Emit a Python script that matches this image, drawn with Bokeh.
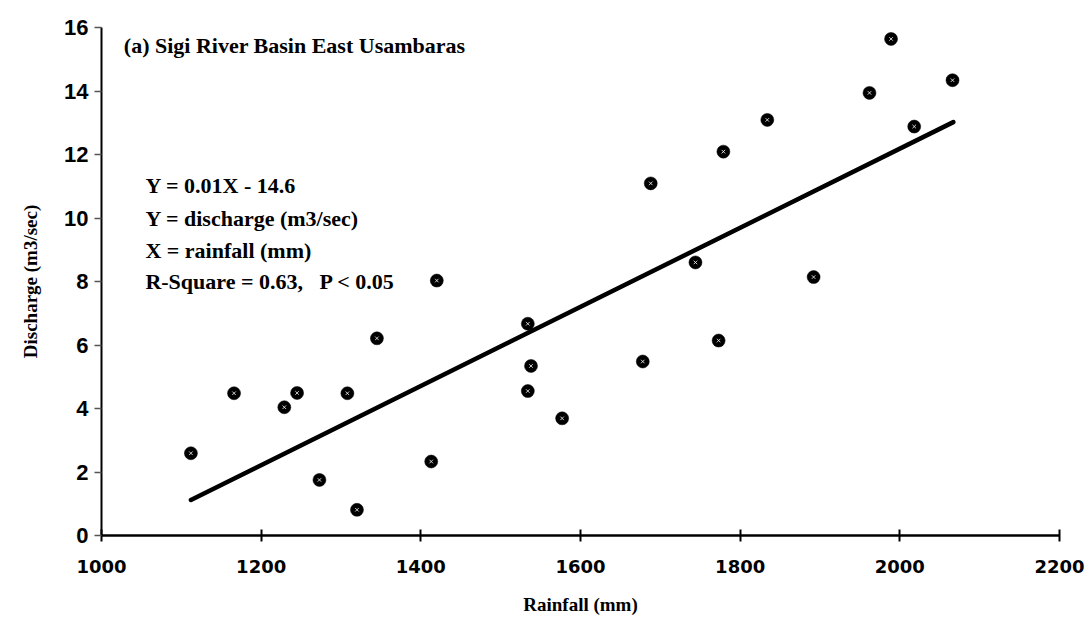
from bokeh.plotting import figure
from bokeh.models import Label, FixedTicker, Range1d
from bokeh.embed import file_html
from bokeh.resources import INLINE

# Data
rainfall = [1112, 1166, 1229, 1245, 1308, 1273, 1320, 1345, 1413, 1420,
            1534, 1538, 1534, 1577, 1678, 1688, 1744, 1773, 1779, 1834,
            1892, 1962, 1989, 2018, 2066]
discharge = [2.59, 4.48, 4.04, 4.49, 4.48, 1.75, 0.81, 6.21, 2.33, 8.03,
             6.67, 5.34, 4.55, 3.69, 5.48, 11.09, 8.60, 6.14, 12.09, 13.09,
             8.14, 13.94, 15.64, 12.88, 14.34]
fit_x = [1112, 2067]
fit_y = [1.12, 13.02]
x_ticks = [1000, 1200, 1400, 1600, 1800, 2000, 2200]
y_ticks = [0, 2, 4, 6, 8, 10, 12, 14, 16]

title_text = "(a) Sigi River Basin East Usambaras"
notes = ["Y = 0.01X - 14.6", "Y = discharge (m3/sec)", "X = rainfall (mm)",
         "R-Square = 0.63,\u00a0\u00a0\u00a0P < 0.05"]

p = figure(width=1088, height=623, output_backend="svg", toolbar_location=None,
           x_range=Range1d(1000, 2200), y_range=Range1d(0, 16),
           min_border_left=101, min_border_right=29, min_border_top=27,
           min_border_bottom=88)
p.outline_line_color = None
p.grid.visible = False
p.background_fill_color = "white"
p.border_fill_color = "white"

# regression line
p.line(fit_x, fit_y, line_color="black", line_width=4.5, line_cap="round")
# points
p.scatter(rainfall, discharge, size=13, marker="circle", fill_color="black",
          line_color="black", line_width=0.5)
p.scatter(rainfall, discharge, size=5, marker="x", line_color="white",
          line_width=1.0, line_alpha=0.8)

serif = "Liberation Serif"

xa = p.xaxis[0]
xa.ticker = FixedTicker(ticks=x_ticks)
xa.axis_label = "Rainfall (mm)"
xa.axis_label_text_font = serif
xa.axis_label_text_font_style = "bold"
xa.axis_label_text_font_size = "19px"
xa.axis_label_text_color = "black"
xa.axis_label_standoff = 18
xa.major_label_text_font = "DejaVu Sans"
xa.major_label_text_font_style = "bold"
xa.major_label_text_font_size = "18px"
xa.major_label_text_color = "black"
xa.major_label_standoff = 18
xa.major_tick_in = 6
xa.major_tick_out = 6
xa.major_tick_line_width = 2
xa.major_tick_line_color = "black"
xa.minor_tick_line_color = None
xa.axis_line_width = 2.5
xa.axis_line_color = "black"

ya = p.yaxis[0]
ya.ticker = FixedTicker(ticks=y_ticks)
ya.axis_label = "Discharge (m3/sec)"
ya.axis_label_text_font = serif
ya.axis_label_text_font_style = "bold"
ya.axis_label_text_font_size = "19px"
ya.axis_label_text_color = "black"
ya.axis_label_standoff = 20
ya.major_label_text_font = "Liberation Sans"
ya.major_label_text_font_style = "bold"
ya.major_label_text_font_size = "22px"
ya.major_label_text_color = "black"
ya.major_label_standoff = 6
ya.major_tick_in = 0
ya.major_tick_out = 7
ya.major_tick_line_color = "#555555"
ya.major_tick_line_width = 1.5
ya.minor_tick_line_color = None
ya.axis_line_width = 2
ya.axis_line_color = "black"

p.add_layout(Label(x=1028, y=15.43, text=title_text, text_font=serif,
                   text_font_style="bold", text_font_size="22px",
                   text_baseline="middle", text_color="black"))
for txt, yy in zip(notes, [11.02, 9.98, 8.98, 8.0]):
    p.add_layout(Label(x=1055, y=yy, text=txt, text_font=serif,
                       text_font_style="bold", text_font_size="22px",
                       text_baseline="middle", text_color="black"))

open("out.html", "w").write(file_html(p, INLINE))
